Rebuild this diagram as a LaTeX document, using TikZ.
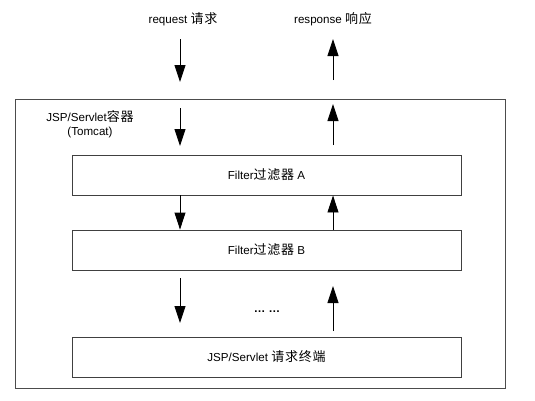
\documentclass[tikz,border=0pt]{standalone}
\usepackage{fontspec}
\setmainfont{Liberation Sans}
\newfontfamily\cjk[Scale=1.12,LetterSpace=6]{Noto Sans CJK SC}
\newcommand{\zh}[1]{{\cjk #1}}
\usetikzlibrary{arrows.meta}
\begin{document}
\begin{tikzpicture}[x=1pt,y=-1pt,
  txt/.style={font=\fontsize{11.6}{14.5}\selectfont, inner sep=0pt, align=center},
  box/.style={txt, draw=black!75, line width=0.9pt, minimum width=389pt, minimum height=40pt},
  container/.style={draw=black!70, line width=0.9pt, minimum width=490pt, minimum height=289pt, inner sep=0pt},
  arr/.style={-{Triangle[length=17pt,width=11pt]}, line width=0.9pt}]
\useasboundingbox (0,0) rectangle (535,400);
\node[container] (outer) at (260,243.5) {};
\node[box] (A) at (266.5,175) {Filter\zh{过滤器} A};
\node[box] (B) at (266.5,250) {Filter\zh{过滤器} B};
\node[box] (E) at (266.5,357) {JSP/Servlet \zh{请求终端}};
\node[txt] (req) at (183,19) {request \zh{请求}};
\node[txt] (resp) at (333,19) {response \zh{响应}};
\node[txt] (cont) at (90,124) {JSP/Servlet\zh{容器}\\(Tomcat)};
\node[txt] (dots) at (267,312) {\textbf{\dots\ \dots}};
\coordinate (lx) at (180,0);
\coordinate (rx) at (333,0);
% top arrows
\coordinate (r1s) at (180,39); \coordinate (r1e) at (180,82);
\coordinate (p1s) at (333,80); \coordinate (p1e) at (333,39);
\draw[arr] (r1s) -- (r1e);
\draw[arr] (p1s) -- (p1e);
% inside container, above A
\coordinate (r2s) at (180,108); \coordinate (r2e) at (180,146);
\coordinate (p2s) at (333,145); \coordinate (p2e) at (333,104);
\draw[arr] (r2s) -- (r2e);
\draw[arr] (p2s) -- (p2e);
% between A and B
\draw[arr] (A.south -| lx) -- (B.north -| lx);
\draw[arr] (B.north -| rx) -- (A.south -| rx);
% below B
\coordinate (r3s) at (180,278); \coordinate (r3e) at (180,323);
\coordinate (p3s) at (333,331); \coordinate (p3e) at (333,286);
\draw[arr] (r3s) -- (r3e);
\draw[arr] (p3s) -- (p3e);
\end{tikzpicture}
\end{document}
